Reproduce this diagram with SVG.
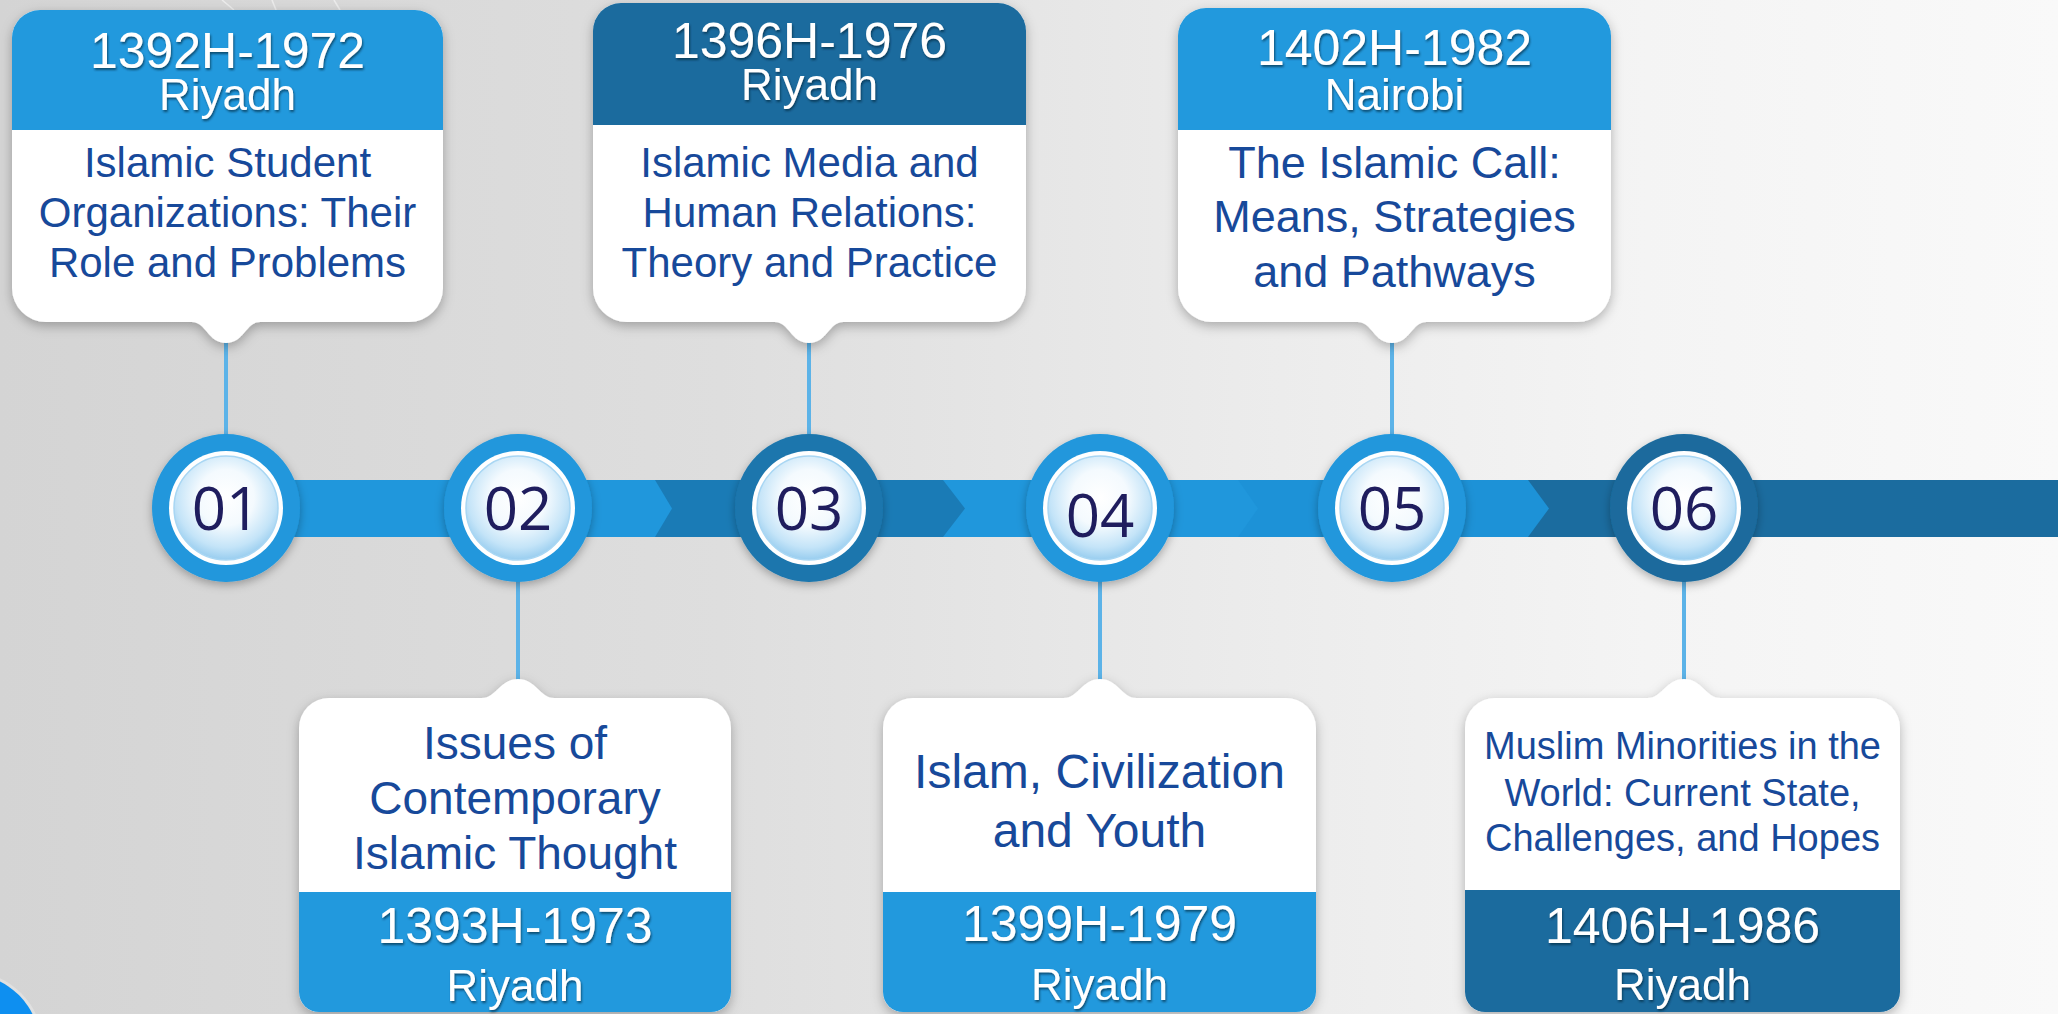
<svg xmlns="http://www.w3.org/2000/svg" width="2058" height="1014" viewBox="0 0 2058 1014">
  <defs>
    <linearGradient id="bgGrad" x1="0" y1="0" x2="1" y2="0">
      <stop offset="0" stop-color="#d4d4d4"/>
      <stop offset="0.35" stop-color="#dedede"/>
      <stop offset="0.6" stop-color="#ebebeb"/>
      <stop offset="0.8" stop-color="#f4f4f4"/>
      <stop offset="1" stop-color="#f9f9f9"/>
    </linearGradient>
    <radialGradient id="innerGrad" cx="50%" cy="40%" r="60%">
      <stop offset="0" stop-color="#ffffff"/>
      <stop offset="0.45" stop-color="#f4fafe"/>
      <stop offset="0.8" stop-color="#c4e4f8"/>
      <stop offset="1" stop-color="#98cdef"/>
    </radialGradient>
    <filter id="shadow" x="-20%" y="-20%" width="140%" height="150%">
      <feDropShadow dx="0" dy="4" stdDeviation="6" flood-color="#000" flood-opacity="0.28"/>
    </filter>
    <filter id="cshadow" x="-30%" y="-30%" width="160%" height="160%">
      <feDropShadow dx="0" dy="3" stdDeviation="5" flood-color="#000" flood-opacity="0.3"/>
    </filter>
    <filter id="tshadow" x="-10%" y="-20%" width="120%" height="150%">
      <feDropShadow dx="1" dy="2" stdDeviation="1" flood-color="#06213a" flood-opacity="0.65"/>
    </filter>
    <style>
      .card { fill: #ffffff; filter: url(#shadow); }
      .hb { fill: #2299dd; }
      .hd { fill: #1b6b9e; }
      .date { font-family: "Liberation Sans", Arial, sans-serif; font-size: 50px; fill: #ffffff; text-anchor: middle; filter: url(#tshadow); }
      .city { font-family: "Liberation Sans", Arial, sans-serif; font-size: 44px; fill: #ffffff; text-anchor: middle; filter: url(#tshadow); }
      .body { font-family: "Liberation Sans", Arial, sans-serif; fill: #17499a; text-anchor: middle; }
      .conn { stroke: #5cb3e8; stroke-width: 4; fill: none; }
      .num { font-family: "Open Sans", "Noto Sans", sans-serif; font-size: 60px; fill: #1f1d5e; text-anchor: middle; }
      .white { fill: #ffffff; }
      .inner { fill: url(#innerGrad); stroke: #a8d6f3; stroke-width: 1.5; }
    </style>
  </defs>

  <!-- background -->
  <rect x="0" y="0" width="2058" height="1014" fill="url(#bgGrad)"/>
  <g stroke="#f4f4f4" stroke-width="1.5" fill="none" opacity="0.7">
    <path d="M222,0 L234,10"/>
    <path d="M272,0 L276,10"/>
    <path d="M334,0 L340,10"/>
  </g>
  <circle cx="-32" cy="1046" r="75" fill="#e6e6e6" opacity="0.7"/>
  <circle cx="-32" cy="1046" r="72" fill="#0e8ff0"/>

  <!-- timeline bar -->
  <g id="bar">
    <rect x="1528" y="480" width="530" height="57" fill="#1b6c9f"/>
    <path d="M1236,480 H1528 L1549,508.5 L1528,537 H1236 Z" fill="#1d92d7"/>
    <path d="M943,480 H1238 L1258,508.5 L1238,537 H943 Z" fill="#2097dc"/>
    <path d="M655,480 H943 L965,508.5 L943,537 H655 Z" fill="#1a7bb6"/>
    <path d="M226,480 H655 L672,508.5 L655,537 H226 Z" fill="#2097dc"/>
  </g>

  <!-- connectors -->
  <g id="connectors">
    <line class="conn" x1="226" y1="340" x2="226" y2="440"/>
    <line class="conn" x1="809" y1="340" x2="809" y2="440"/>
    <line class="conn" x1="1392" y1="340" x2="1392" y2="440"/>
    <line class="conn" x1="518" y1="578" x2="518" y2="684"/>
    <line class="conn" x1="1100" y1="578" x2="1100" y2="684"/>
    <line class="conn" x1="1684" y1="578" x2="1684" y2="684"/>
  </g>

  <!-- circles -->
  <g id="step01">
    <circle cx="226" cy="508" r="74" fill="#2097dc" filter="url(#cshadow)"/>
    <circle class="white" cx="226" cy="508" r="57"/>
    <circle class="inner" cx="226" cy="508" r="52"/>
    <text class="num" x="226" y="530">01</text>
  </g>
  <g id="step02">
    <circle cx="518" cy="508" r="74" fill="#2097dc" filter="url(#cshadow)"/>
    <circle class="white" cx="518" cy="508" r="57"/>
    <circle class="inner" cx="518" cy="508" r="52"/>
    <text class="num" x="518" y="530">02</text>
  </g>
  <g id="step03">
    <circle cx="809" cy="508" r="74" fill="#1b76ad" filter="url(#cshadow)"/>
    <circle class="white" cx="809" cy="508" r="57"/>
    <circle class="inner" cx="809" cy="508" r="52"/>
    <text class="num" x="809" y="530">03</text>
  </g>
  <g id="step04">
    <circle cx="1100" cy="508" r="74" fill="#2097dc" filter="url(#cshadow)"/>
    <circle class="white" cx="1100" cy="508" r="57"/>
    <circle class="inner" cx="1100" cy="508" r="52"/>
    <text class="num" x="1100" y="537">04</text>
  </g>
  <g id="step05">
    <circle cx="1392" cy="508" r="74" fill="#2097dc" filter="url(#cshadow)"/>
    <circle class="white" cx="1392" cy="508" r="57"/>
    <circle class="inner" cx="1392" cy="508" r="52"/>
    <text class="num" x="1392" y="530">05</text>
  </g>
  <g id="step06">
    <circle cx="1684" cy="508" r="74" fill="#1a6b9d" filter="url(#cshadow)"/>
    <circle class="white" cx="1684" cy="508" r="57"/>
    <circle class="inner" cx="1684" cy="508" r="52"/>
    <text class="num" x="1684" y="530">06</text>
  </g>

  <!-- card 1 (top) -->
  <g id="card01">
    <path class="card" d="M40,10 H415 A28,28 0 0 1 443,38 V288 A34,34 0 0 1 409,322 H260 C246,322 244,343 226,343 C208,343 206,322 192,322 H46 A34,34 0 0 1 12,288 V38 A28,28 0 0 1 40,10 Z"/>
    <path class="hb" d="M12,130 V38 A28,28 0 0 1 40,10 H415 A28,28 0 0 1 443,38 V130 Z"/>
    <text class="date" x="227.5" y="68">1392H-1972</text>
    <text class="city" x="227.5" y="110">Riyadh</text>
    <text class="body" font-size="42" x="227.5" y="177">Islamic Student</text>
    <text class="body" font-size="42" x="227.5" y="227">Organizations: Their</text>
    <text class="body" font-size="42" x="227.5" y="277">Role and Problems</text>
  </g>

  <!-- card 3 (top) -->
  <g id="card03">
    <path class="card" d="M621,3 H998 A28,28 0 0 1 1026,31 V288 A34,34 0 0 1 992,322 H843 C829,322 827,343 809,343 C791,343 789,322 775,322 H627 A34,34 0 0 1 593,288 V31 A28,28 0 0 1 621,3 Z"/>
    <path class="hd" d="M593,125 V31 A28,28 0 0 1 621,3 H998 A28,28 0 0 1 1026,31 V125 Z"/>
    <text class="date" x="809.5" y="58">1396H-1976</text>
    <text class="city" x="809.5" y="100">Riyadh</text>
    <text class="body" font-size="42" x="809.5" y="177">Islamic Media and</text>
    <text class="body" font-size="42" x="809.5" y="227">Human Relations:</text>
    <text class="body" font-size="42" x="809.5" y="277">Theory and Practice</text>
  </g>

  <!-- card 5 (top) -->
  <g id="card05">
    <path class="card" d="M1206,8 H1583 A28,28 0 0 1 1611,36 V288 A34,34 0 0 1 1577,322 H1426 C1412,322 1410,343 1392,343 C1374,343 1372,322 1358,322 H1212 A34,34 0 0 1 1178,288 V36 A28,28 0 0 1 1206,8 Z"/>
    <path class="hb" d="M1178,130 V36 A28,28 0 0 1 1206,8 H1583 A28,28 0 0 1 1611,36 V130 Z"/>
    <text class="date" x="1394.5" y="65">1402H-1982</text>
    <text class="city" x="1394.5" y="110">Nairobi</text>
    <text class="body" font-size="45" x="1394.5" y="178">The Islamic Call:</text>
    <text class="body" font-size="45" x="1394.5" y="232">Means, Strategies</text>
    <text class="body" font-size="45" x="1394.5" y="287">and Pathways</text>
  </g>

  <!-- card 2 (bottom) -->
  <g id="card02">
    <path class="card" d="M329,698 H482 C496,698 500,679 518,679 C536,679 540,698 554,698 H701 A30,30 0 0 1 731,728 V992 A20,20 0 0 1 711,1012 H319 A20,20 0 0 1 299,992 V728 A30,30 0 0 1 329,698 Z"/>
    <path class="hb" d="M299,892 H731 V992 A20,20 0 0 1 711,1012 H319 A20,20 0 0 1 299,992 Z"/>
    <text class="body" font-size="46" x="515" y="759">Issues of</text>
    <text class="body" font-size="46" x="515" y="814">Contemporary</text>
    <text class="body" font-size="46" x="515" y="869">Islamic Thought</text>
    <text class="date" x="515" y="943">1393H-1973</text>
    <text class="city" x="515" y="1001">Riyadh</text>
  </g>

  <!-- card 4 (bottom) -->
  <g id="card04">
    <path class="card" d="M913,698 H1064 C1078,698 1082,679 1100,679 C1118,679 1122,698 1136,698 H1286 A30,30 0 0 1 1316,728 V992 A20,20 0 0 1 1296,1012 H903 A20,20 0 0 1 883,992 V728 A30,30 0 0 1 913,698 Z"/>
    <path class="hb" d="M883,892 H1316 V992 A20,20 0 0 1 1296,1012 H903 A20,20 0 0 1 883,992 Z"/>
    <text class="body" font-size="48" x="1099.5" y="788">Islam, Civilization</text>
    <text class="body" font-size="48" x="1099.5" y="847">and Youth</text>
    <text class="date" x="1099.5" y="941">1399H-1979</text>
    <text class="city" x="1099.5" y="1000">Riyadh</text>
  </g>

  <!-- card 6 (bottom) -->
  <g id="card06">
    <path class="card" d="M1495,698 H1648 C1662,698 1666,679 1684,679 C1702,679 1706,698 1720,698 H1870 A30,30 0 0 1 1900,728 V992 A20,20 0 0 1 1880,1012 H1485 A20,20 0 0 1 1465,992 V728 A30,30 0 0 1 1495,698 Z"/>
    <path class="hd" d="M1465,890 H1900 V992 A20,20 0 0 1 1880,1012 H1485 A20,20 0 0 1 1465,992 Z"/>
    <text class="body" font-size="38" x="1682.5" y="759">Muslim Minorities in the</text>
    <text class="body" font-size="38" x="1682.5" y="806">World: Current State,</text>
    <text class="body" font-size="38" x="1682.5" y="851">Challenges, and Hopes</text>
    <text class="date" x="1682.5" y="943">1406H-1986</text>
    <text class="city" x="1682.5" y="1000">Riyadh</text>
  </g>
</svg>
